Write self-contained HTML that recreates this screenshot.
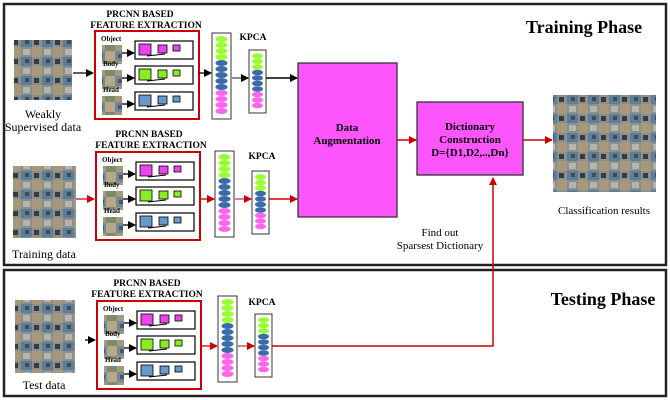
<!DOCTYPE html>
<html><head><meta charset="utf-8"><style>
html,body{margin:0;padding:0;background:#fff}
svg{display:block}
text{font-family:"Liberation Serif",serif}
</style></head><body>
<svg width="670" height="400" viewBox="0 0 670 400" xmlns="http://www.w3.org/2000/svg">
<defs>
<pattern id="ph" width="20" height="20" patternUnits="userSpaceOnUse">
<rect width="20" height="20" fill="#8a9a80"/>
<rect width="10" height="10" fill="#6f88a0"/>
<rect x="10" width="10" height="10" fill="#b8a888"/>
<rect y="10" width="10" height="10" fill="#a59a7e"/>
<rect x="10" y="10" width="10" height="10" fill="#7c8c6a"/>
<rect x="3" y="3" width="5" height="4" fill="#555"/>
</pattern>
<pattern id="ph2" width="21" height="19" patternUnits="userSpaceOnUse">
<rect width="21" height="19" fill="#8a9090"/>
<rect width="11" height="9" fill="#5a7e9e"/>
<rect x="11" y="9" width="10" height="10" fill="#a8987a"/>
<rect x="2" y="11" width="7" height="6" fill="#b8b4aa"/>
<rect x="13" y="2" width="5" height="5" fill="#3a3a3a"/>
<rect x="4" y="2" width="4" height="4" fill="#4a4a40"/>
</pattern>
<marker id="ab" markerWidth="8" markerHeight="8" refX="7" refY="4" orient="auto" markerUnits="userSpaceOnUse"><path d="M0,0L8,4L0,8z" fill="#000"/></marker>
<marker id="ar" markerWidth="8" markerHeight="8" refX="7" refY="4" orient="auto" markerUnits="userSpaceOnUse"><path d="M0,0L8,4L0,8z" fill="#c00"/></marker>
<g id="cubes">
<rect x="7" y="14" width="20" height="19" fill="url(#ph)"/>
<line x1="27" y1="22" x2="39" y2="22" stroke="#000" stroke-width="1.3" marker-end="url(#ab)"/>
<rect x="40" y="10" width="58" height="18" fill="#fff" stroke="#000" stroke-width="1.2"/>
<line x1="52" y1="25" x2="70" y2="23" stroke="#000" stroke-width="1"/>
</g>
<g id="bigcol">
<rect x="0" y="0" width="19" height="86" fill="#fff" stroke="#333"/>
<g fill="#9f3"><ellipse cx="9.5" cy="6" rx="6" ry="3"/><ellipse cx="9.5" cy="12" rx="6" ry="3"/><ellipse cx="9.5" cy="18" rx="6" ry="3"/><ellipse cx="9.5" cy="24" rx="6" ry="3"/></g>
<g fill="#3a6aa8"><ellipse cx="9.5" cy="30" rx="6" ry="3"/><ellipse cx="9.5" cy="36" rx="6" ry="3"/><ellipse cx="9.5" cy="42" rx="6" ry="3"/><ellipse cx="9.5" cy="48" rx="6" ry="3"/><ellipse cx="9.5" cy="54" rx="6" ry="3"/></g>
<g fill="#f6e"><ellipse cx="9.5" cy="60" rx="6" ry="3"/><ellipse cx="9.5" cy="66" rx="6" ry="3"/><ellipse cx="9.5" cy="72" rx="6" ry="3"/><ellipse cx="9.5" cy="78" rx="6" ry="3"/></g>
</g>
<g id="smallcol">
<rect x="0" y="0" width="17" height="63" fill="#fff" stroke="#333"/>
<g fill="#9f3"><ellipse cx="8.5" cy="6" rx="5.5" ry="2.8"/><ellipse cx="8.5" cy="11.5" rx="5.5" ry="2.8"/><ellipse cx="8.5" cy="17" rx="5.5" ry="2.8"/></g>
<g fill="#3a6aa8"><ellipse cx="8.5" cy="22.5" rx="5.5" ry="2.8"/><ellipse cx="8.5" cy="28" rx="5.5" ry="2.8"/><ellipse cx="8.5" cy="33.5" rx="5.5" ry="2.8"/><ellipse cx="8.5" cy="39" rx="5.5" ry="2.8"/></g>
<g fill="#f6e"><ellipse cx="8.5" cy="44.5" rx="5.5" ry="2.8"/><ellipse cx="8.5" cy="50" rx="5.5" ry="2.8"/><ellipse cx="8.5" cy="55.5" rx="5.5" ry="2.8"/></g>
</g>
<g id="fe">
<rect x="0" y="0" width="104" height="88" fill="#fff" stroke="#c00" stroke-width="2"/>
<use href="#cubes"/>
<use href="#cubes" y="25"/>
<use href="#cubes" y="51"/>
<g stroke="#000" stroke-width="0.8">
<rect x="44" y="13" width="12" height="11" fill="#e4e"/><rect x="63" y="14" width="9" height="8" fill="#e4e"/><rect x="78" y="14" width="7" height="6" fill="#e4e"/>
<rect x="44" y="38" width="12" height="11" fill="#8e2"/><rect x="63" y="39" width="9" height="8" fill="#8e2"/><rect x="78" y="39" width="7" height="6" fill="#8e2"/>
<rect x="44" y="64" width="12" height="11" fill="#69c"/><rect x="63" y="65" width="9" height="8" fill="#69c"/><rect x="78" y="65" width="7" height="6" fill="#69c"/>
</g>
</g>
</defs>

<rect x="4" y="4" width="662" height="261" fill="none" stroke="#222" stroke-width="2.5"/>
<rect x="4" y="270" width="662" height="126" fill="none" stroke="#222" stroke-width="2.5"/>
<text x="584" y="33" font-size="18" font-weight="bold" text-anchor="middle">Training Phase</text>
<text x="603" y="305" font-size="18" font-weight="bold" text-anchor="middle">Testing Phase</text>

<!-- row 1 -->
<rect x="14" y="40" width="58" height="60" fill="url(#ph2)"/>
<text x="43" y="118" font-size="12" text-anchor="middle">Weakly</text>
<text x="43" y="131" font-size="12" text-anchor="middle">Supervised  data</text>
<line x1="73" y1="73" x2="93" y2="73" stroke="#000" stroke-width="1.3" marker-end="url(#ab)"/>
<text x="140" y="17" font-size="9.5" font-weight="bold" text-anchor="middle">PRCNN BASED</text>
<text x="146" y="28" font-size="9.5" font-weight="bold" text-anchor="middle">FEATURE EXTRACTION</text>
<use href="#fe" x="95" y="31"/>
<text x="101" y="41" font-size="7" font-weight="bold">Object</text>
<text x="103" y="66" font-size="7" font-weight="bold">Body</text>
<text x="103" y="92" font-size="7" font-weight="bold">Head</text>
<line x1="199" y1="73" x2="211" y2="73" stroke="#000" stroke-width="1.3" marker-end="url(#ab)"/>
<use href="#bigcol" x="212" y="33"/>
<text x="253" y="40" font-size="9.5" font-weight="bold" text-anchor="middle">KPCA</text>
<line x1="232" y1="78" x2="248" y2="78" stroke="#666" stroke-width="1.5" marker-end="url(#ab)"/>
<use href="#smallcol" x="249" y="50"/>
<line x1="266" y1="78" x2="297" y2="78" stroke="#000" stroke-width="1.5" marker-end="url(#ab)"/>

<!-- row 2 -->
<rect x="13" y="166" width="63" height="72" fill="url(#ph2)"/>
<text x="44" y="258" font-size="12" text-anchor="middle">Training data</text>
<line x1="76" y1="199" x2="94" y2="199" stroke="#c00" stroke-width="1.3" marker-end="url(#ar)"/>
<text x="149" y="137" font-size="9.5" font-weight="bold" text-anchor="middle">PRCNN BASED</text>
<text x="151" y="148" font-size="9.5" font-weight="bold" text-anchor="middle">FEATURE EXTRACTION</text>
<use href="#fe" x="96" y="152"/>
<text x="102" y="162" font-size="7" font-weight="bold">Object</text>
<text x="104" y="187" font-size="7" font-weight="bold">Body</text>
<text x="104" y="213" font-size="7" font-weight="bold">Head</text>
<line x1="200" y1="199" x2="214" y2="199" stroke="#c00" stroke-width="1.3" marker-end="url(#ar)"/>
<use href="#bigcol" x="215" y="151"/>
<text x="262" y="159" font-size="9.5" font-weight="bold" text-anchor="middle">KPCA</text>
<line x1="234" y1="199" x2="251" y2="199" stroke="#c88" stroke-width="2" marker-end="url(#ar)"/>
<use href="#smallcol" x="252" y="171"/>
<line x1="269" y1="199" x2="297" y2="199" stroke="#c00" stroke-width="1.5" marker-end="url(#ar)"/>

<!-- test row -->
<rect x="15" y="300" width="60" height="73" fill="url(#ph2)"/>
<text x="44" y="389" font-size="12" text-anchor="middle">Test data</text>
<line x1="85" y1="340" x2="95" y2="340" stroke="#000" stroke-width="1.3" marker-end="url(#ab)"/>
<text x="147" y="286" font-size="9.5" font-weight="bold" text-anchor="middle">PRCNN BASED</text>
<text x="147" y="297" font-size="9.5" font-weight="bold" text-anchor="middle">FEATURE EXTRACTION</text>
<use href="#fe" x="97" y="301"/>
<text x="103" y="311" font-size="7" font-weight="bold">Object</text>
<text x="105" y="336" font-size="7" font-weight="bold">Body</text>
<text x="105" y="362" font-size="7" font-weight="bold">Head</text>
<line x1="201" y1="346" x2="217" y2="346" stroke="#c00" stroke-width="1.3" marker-end="url(#ar)"/>
<use href="#bigcol" x="218" y="296"/>
<text x="262" y="305" font-size="9.5" font-weight="bold" text-anchor="middle">KPCA</text>
<line x1="237" y1="346" x2="254" y2="346" stroke="#c88" stroke-width="2" marker-end="url(#ar)"/>
<use href="#smallcol" x="255" y="314"/>
<polyline points="272,346 493,346 493,178" fill="none" stroke="#c00" stroke-width="1.5" marker-end="url(#ar)"/>

<!-- middle boxes -->
<rect x="298" y="63" width="99" height="154" fill="#f5f" stroke="#333" stroke-width="1.3"/>
<text x="347" y="131" font-size="11" font-weight="bold" text-anchor="middle">Data</text>
<text x="347" y="144" font-size="11" font-weight="bold" text-anchor="middle">Augmentation</text>
<line x1="397" y1="140" x2="416" y2="140" stroke="#c00" stroke-width="1.5" marker-end="url(#ar)"/>
<rect x="417" y="102" width="106" height="73" fill="#f5f" stroke="#333" stroke-width="1.3"/>
<text x="470" y="130" font-size="11" font-weight="bold" text-anchor="middle">Dictionary</text>
<text x="470" y="143" font-size="11" font-weight="bold" text-anchor="middle">Construction</text>
<text x="470" y="156" font-size="11" font-weight="bold" text-anchor="middle">D={D1,D2,..,Dn}</text>
<line x1="523" y1="140" x2="552" y2="140" stroke="#c00" stroke-width="1.5" marker-end="url(#ar)"/>
<rect x="553" y="95" width="103" height="97" fill="url(#ph2)"/>
<text x="604" y="214" font-size="11" text-anchor="middle">Classification results</text>
<text x="440" y="236" font-size="11" text-anchor="middle">Find out</text>
<text x="440" y="249" font-size="11" text-anchor="middle">Sparsest Dictionary</text>
</svg>
</body></html>
